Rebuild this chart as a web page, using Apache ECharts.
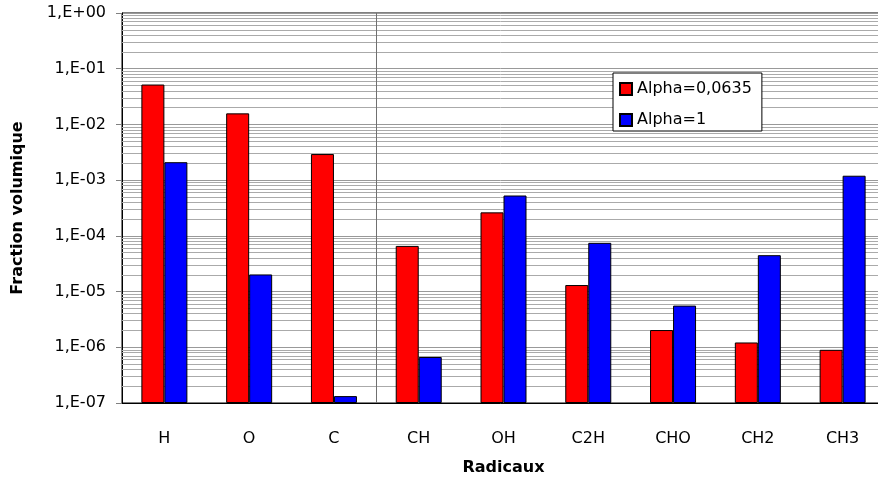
<!DOCTYPE html>
<html>
<head>
<meta charset="utf-8">
<script src="https://cdn.jsdelivr.net/npm/echarts@6/dist/echarts.min.js"></script>
<style>
  html, body { margin: 0; padding: 0; background: #fff; }
  #main { width: 878px; height: 484px; }
</style>
</head>
<body>
<div id="main"></div>
<script>
var categories = ['H', 'O', 'C', 'CH', 'OH', 'C2H', 'CHO', 'CH2', 'CH3'];
var alphaSmall = [5.2e-2, 1.58e-2, 2.94e-3, 6.6e-5, 2.64e-4, 1.31e-5, 2.04e-6, 1.22e-6, 9.0e-7];
var alphaOne = [2.1e-3, 2.03e-5, 1.33e-7, 6.7e-7, 5.3e-4, 7.5e-5, 5.6e-6, 4.5e-5, 1.2e-3];
var seriesNames = ['Alpha=0,0635', 'Alpha=1'];

(function() {
    var chart = echarts.init(document.getElementById('main'));

    // minor gridlines 2..9 in each decade
    var minorLines = [];
    for (var e = -7; e < 0; e++) {
        for (var m = 2; m <= 9; m++) {
            minorLines.push({ yAxis: m * Math.pow(10, e) });
        }
    }

    function fmt(v) {
        var ex = Math.round(Math.log10(v));
        var a = Math.abs(ex);
        return '1,E' + (ex < 0 ? '-' : '+') + (a < 10 ? '0' : '') + a;
    }

    var font = 'DejaVu Sans, Arial, sans-serif';

    var option = {
        animation: false,
        backgroundColor: '#fff',
        textStyle: { fontFamily: font },
        grid: {
            left: 122,
            top: 13,
            width: 763,
            height: 390,
            outerBoundsMode: 'none',
            containLabel: false,
            show: true,
            borderColor: '#000',
            borderWidth: 1
        },
        legend: {
            orient: 'vertical',
            left: 613,
            top: 73,
            width: 149,
            padding: [8, 10, 3, 6],
            itemGap: 15,
            itemWidth: 12,
            itemHeight: 12,
            icon: 'rect',
            borderColor: '#000',
            borderWidth: 1,
            backgroundColor: '#fff',
            textStyle: { fontFamily: font, fontSize: 16, color: '#000' },
            data: seriesNames
        },
        xAxis: [{
            type: 'category',
            data: categories,
            name: 'Radicaux',
            nameLocation: 'middle',
            nameGap: 57,
            nameTextStyle: { fontFamily: font, fontSize: 16, fontWeight: 'bold', color: '#000' },
            axisLine: { lineStyle: { color: '#000', width: 1 } },
            axisTick: { length: 6, lineStyle: { color: '#808080' } },
            axisLabel: { margin: 28, fontSize: 16, color: '#000', fontFamily: font },
            splitLine: { show: false }
        }, {
            // hidden helper axis for the separator line between C and CH
            type: 'value',
            min: 0,
            max: categories.length,
            show: false
        }],
        yAxis: {
            type: 'log',
            logBase: 10,
            min: 1e-7,
            max: 1,
            interval: 1,
            startValue: 1e-7,
            name: 'Fraction volumique',
            nameLocation: 'middle',
            nameGap: 96,
            nameTextStyle: { fontFamily: font, fontSize: 16, fontWeight: 'bold', color: '#000' },
            axisLine: { show: true, lineStyle: { color: '#000', width: 1 } },
            axisTick: { show: true, length: 6, lineStyle: { color: '#808080' } },
            axisLabel: { margin: 16, fontSize: 16, color: '#000', fontFamily: font, formatter: fmt },
            splitLine: { show: true, lineStyle: { color: '#999', width: 1 } }
        },
        series: [
            {
                name: seriesNames[0],
                type: 'bar',
                data: alphaSmall,
                barWidth: 23,
                barGap: '0%',
                itemStyle: { color: '#ff0000', borderColor: '#000', borderWidth: 1 },
                markLine: {
                    silent: true,
                    z: 1,
                    precision: 12,
                    symbol: 'none',
                    label: { show: false },
                    lineStyle: { color: '#aaa', type: 'solid', width: 1 },
                    data: minorLines
                }
            },
            {
                name: seriesNames[1],
                type: 'bar',
                data: alphaOne,
                barWidth: 23,
                barGap: '0%',
                itemStyle: { color: '#0000ff', borderColor: '#000', borderWidth: 1 }
            },
            {
                name: 'separator',
                type: 'line',
                xAxisIndex: 1,
                data: [],
                markLine: {
                    silent: true,
                    z: 1,
                    symbol: 'none',
                    label: { show: false },
                    lineStyle: { color: '#707070', type: 'solid', width: 1 },
                    data: [{ xAxis: 3 }]
                }
            }
        ]
    };
    chart.setOption(option);
})();
</script>
</body>
</html>
